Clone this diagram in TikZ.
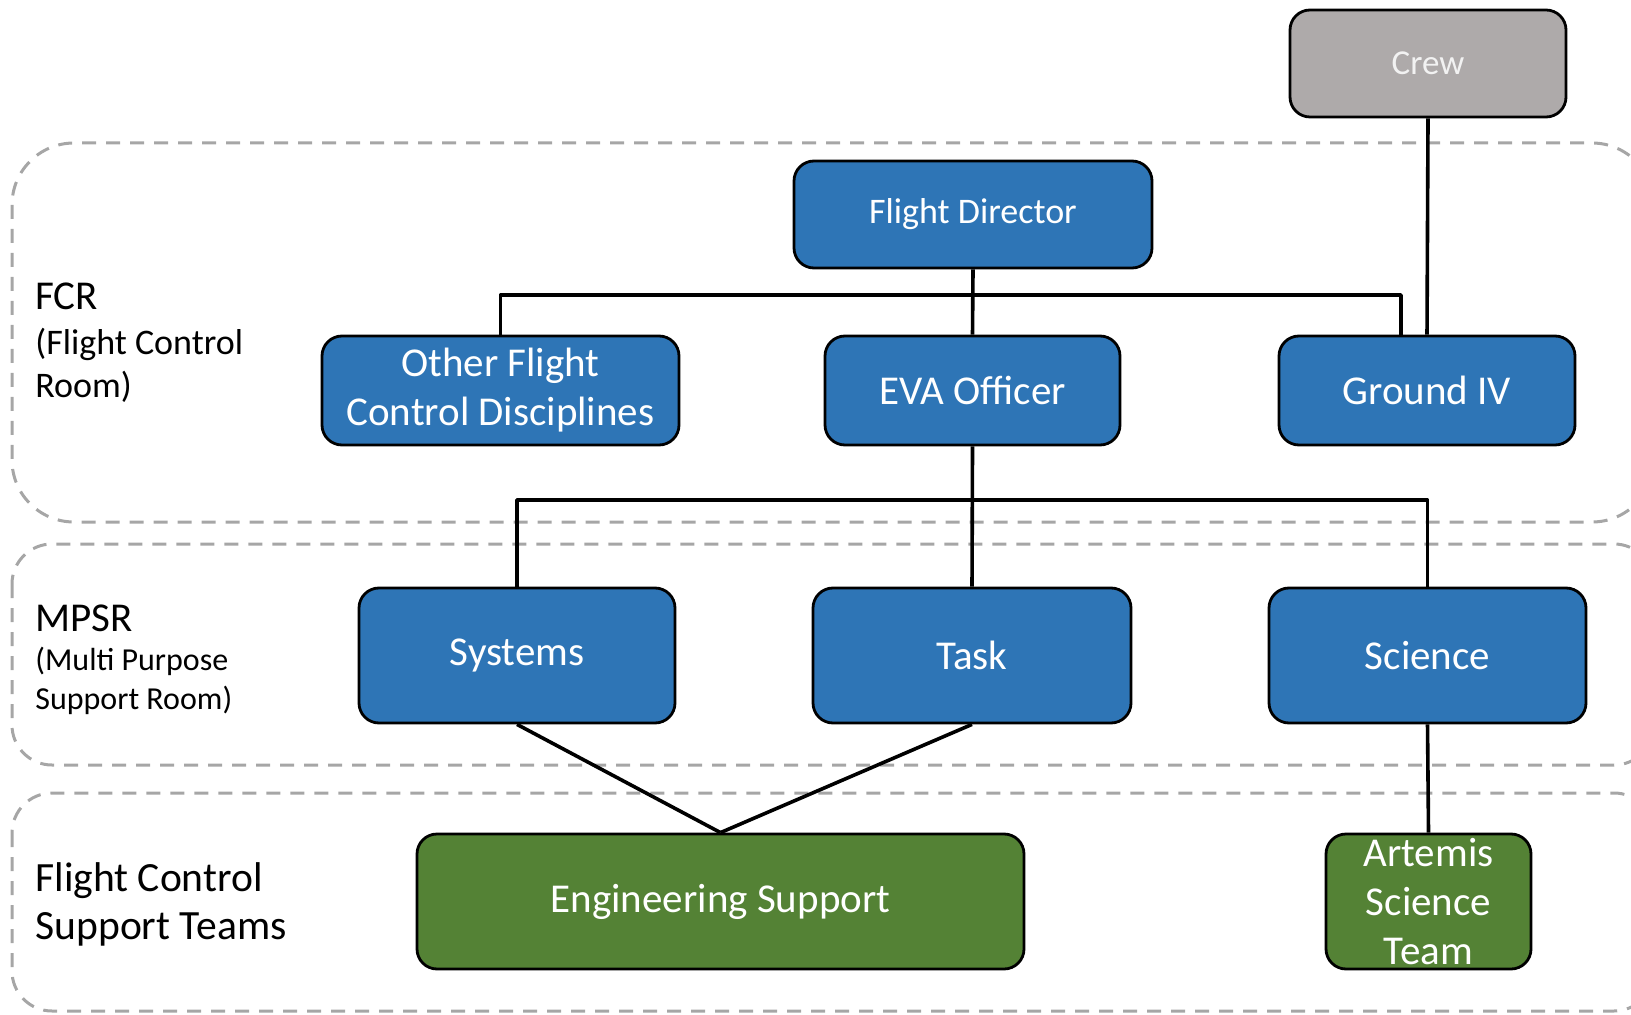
\documentclass[tikz,border=0pt]{standalone}
\usepackage{fontspec}
\setmainfont{Carlito}
\usepackage{xcolor}
\definecolor{fcblue}{HTML}{2E75B6}
\definecolor{fcgreen}{HTML}{548235}
\definecolor{crewgray}{HTML}{AEAAAA}
\definecolor{zonegray}{HTML}{A6A6A6}
\newcommand{\fsz}[2]{\fontsize{#1}{#2}\selectfont}

\begin{document}
\begin{tikzpicture}[x=0.5pt, y=-0.5pt, line join=round,
      box/.style={draw=black, line width=1.4pt, rounded corners=10pt, align=center,
                  text=white, inner sep=0pt, font=\fsz{20.5}{24.5}},
      blu/.style={box, fill=fcblue, minimum height=54.5pt},
      mps/.style={box, fill=fcblue, minimum height=67.5pt},
      grn/.style={box, fill=fcgreen, minimum height=67.5pt},
      zone/.style={draw=zonegray, line width=1.5pt, dash pattern=on 7pt off 5pt},
      wire/.style={draw=black, line width=1.8pt},
      ttl/.style={anchor=base west, inner sep=0pt, align=left, font=\fsz{20.5}{24}}]
    \useasboundingbox (0,0) rectangle (1631,1015);
    \clip (0,0) rectangle (1631,1015);
    % rooms
    \draw[zone, rounded corners=31pt] (12,143) rectangle (1654,522);
    \draw[zone, rounded corners=20pt] (12,544) rectangle (1654,765);
    \draw[zone, rounded corners=20pt] (12,793) rectangle (1654,1011);
    % multi-line labels sit on their last baseline
    \node[ttl] (fcr) at (35,310) {FCR};
    \node[ttl, font=\fsz{18}{21.5}] (fcrsub) at (35,398) {(Flight Control\\Room)};
    \node[ttl] (mpsr) at (35,631) {MPSR};
    \node[ttl, font=\fsz{16}{19.2}] (mpsrsub) at (35,709) {(Multi Purpose\\Support Room)};
    \node[ttl, font=\fsz{20.8}{24}] (fcst) at (35,939) {Flight Control\\Support Teams};
    % boxes
    \node[box, fill=crewgray, text=white!95!black, font=\fsz{17.5}{20}, minimum width=138pt,
          minimum height=53.5pt] (crew) at (1428,63.5) {Crew};
    \node[blu, font=\fsz{18}{22}, minimum width=179pt, minimum height=53.5pt] (fd) at (973,214.5) {Flight Director};
    \node[blu, minimum width=178.5pt] (other) at (500.5,390.5) {Other Flight\\Control Disciplines};
    \node[blu, minimum width=147.5pt] (eva) at (972.5,390.5) {EVA Officer};
    \node[blu, minimum width=148pt] (gnd) at (1427,390.5) {Ground IV};
    \node[mps, minimum width=158pt] (sys) at (517,655.5) {Systems};
    \node[mps, minimum width=159pt] (task) at (972,655.5) {Task};
    \node[mps, minimum width=158.5pt] (sci) at (1427.5,655.5) {Science};
    \node[grn, minimum width=303.5pt] (eng) at (720.5,901.5) {Engineering Support};
    \node[grn, minimum width=102.5pt] (art) at (1428.5,901.5) {Artemis\\Science\\Team};
    % links
    \coordinate (fdbus) at (973,295);
    \coordinate (evabus) at (972,500);
    \draw[wire] (fd.south) -- (eva.north);
    \draw[wire] (other.north) |- (fdbus) -| ([xshift=-13pt]gnd.north);
    \draw[wire] (crew.south) -- (gnd.north);
    \draw[wire] (eva.south) -- (task.north);
    \draw[wire] (sys.north) |- (evabus) -| (sci.north);
    \draw[wire] (sys.south) -- (eng.north);
    \draw[wire] (task.south) -- (eng.north);
    \draw[wire] (sci.south) -- (art.north);
  \end{tikzpicture}
\end{document}
